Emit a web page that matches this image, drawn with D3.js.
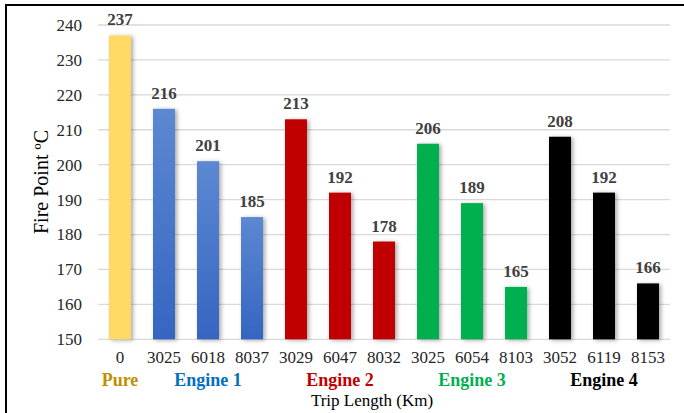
<!DOCTYPE html>
<html>
<head>
<meta charset="utf-8">
<script src="https://cdn.jsdelivr.net/npm/d3@7"></script>
<style>
  html, body { margin: 0; padding: 0; background: #fff; }
  svg { display: block; }
</style>
</head>
<body>
<svg id="chart" width="684" height="413"></svg>
<script>
// Trip lengths (km) for each sample, grouped by engine
const tripLengths = ["0", "3025", "6018", "8037", "3029", "6047", "8032", "3025", "6054", "8103", "3052", "6119", "8153"];
const groupOf     = ["Pure", "Engine 1", "Engine 1", "Engine 1", "Engine 2", "Engine 2", "Engine 2", "Engine 3", "Engine 3", "Engine 3", "Engine 4", "Engine 4", "Engine 4"];
const firePoint   = [237, 216, 201, 185, 213, 192, 178, 206, 189, 165, 208, 192, 166];
const groups      = ["Pure", "Engine 1", "Engine 2", "Engine 3", "Engine 4"];
const yTicks      = [150, 160, 170, 180, 190, 200, 210, 220, 230, 240];

const barFill   = { "Pure": "#FFD966", "Engine 1": "url(#blueGrad)", "Engine 2": "#C00000", "Engine 3": "#00B050", "Engine 4": "#000000" };
const labelFill = { "Pure": "#BF9000", "Engine 1": "#0070C0", "Engine 2": "#C00000", "Engine 3": "#00B050", "Engine 4": "#000000" };

const SERIF = "'Liberation Serif', 'Times New Roman', serif";

const svg = d3.select("#chart");
const margin = { left: 98, right: 14, top: 25, bottom: 74 };

const defs = svg.append("defs");
const grad = defs.append("linearGradient").attr("id", "blueGrad")
  .attr("x1", 0).attr("y1", 0).attr("x2", 0).attr("y2", 1);
grad.append("stop").attr("offset", "0%").attr("stop-color", "#5C88D2");
grad.append("stop").attr("offset", "100%").attr("stop-color", "#3565C1");

const shadow = defs.append("filter").attr("id", "shadow")
  .attr("x", "-30%").attr("y", "-10%").attr("width", "160%").attr("height", "120%");
shadow.append("feDropShadow").attr("dx", 2).attr("dy", 1)
  .attr("stdDeviation", 2).attr("flood-color", "#000").attr("flood-opacity", 0.35);

// Outer frame (right and bottom edges run past the page)
svg.append("rect").attr("x", 6).attr("y", 5).attr("width", 700).attr("height", 430)
  .attr("fill", "none").attr("stroke", "#000").attr("stroke-width", 2);

const x = d3.scaleBand()
  .domain(d3.range(tripLengths.length))
  .range([margin.left, 670])
  .paddingInner(0.5).paddingOuter(0.25);

const y = d3.scaleLinear().domain([150, 240]).range([339.3, 25]);

// Gridlines
svg.append("g")
  .selectAll("line").data(yTicks).join("line")
  .attr("x1", margin.left).attr("x2", 670)
  .attr("y1", d => y(d)).attr("y2", d => y(d))
  .attr("stroke", "#d9d9d9").attr("stroke-width", 1.3);

// Y axis labels
const yAxis = svg.append("g").attr("transform", "translate(82,0)")
  .call(d3.axisLeft(y).tickValues(yTicks).tickSize(0).tickPadding(0));
yAxis.select(".domain").remove();
yAxis.selectAll("text")
  .style("font-family", SERIF)
  .style("font-size", "17px").attr("fill", "#262626");

// Bars
svg.append("g").attr("filter", "url(#shadow)")
  .selectAll("rect").data(firePoint).join("rect")
  .attr("x", (d, i) => x(i))
  .attr("width", x.bandwidth())
  .attr("y", d => y(d))
  .attr("height", d => y(150) - y(d))
  .attr("fill", (d, i) => barFill[groupOf[i]]);

// Value labels
svg.append("g")
  .selectAll("text").data(firePoint).join("text")
  .attr("x", (d, i) => x(i) + x.bandwidth() / 2)
  .attr("y", d => y(d) - 10)
  .attr("text-anchor", "middle")
  .style("font-family", SERIF)
  .style("font-size", "17px").style("font-weight", "bold").attr("fill", "#404040")
  .text(d => d);

// X axis tick labels
const xAxis = svg.append("g").attr("transform", `translate(0,${y(150)})`)
  .call(d3.axisBottom(x).tickFormat(i => tripLengths[i]).tickSize(0).tickPadding(12));
xAxis.select(".domain").remove();
xAxis.selectAll("text")
  .style("font-family", SERIF)
  .style("font-size", "17px").attr("fill", "#262626");

// Group labels
svg.append("g")
  .selectAll("text").data(groups).join("text")
  .attr("x", g => {
    const idx = d3.range(groupOf.length).filter(i => groupOf[i] === g);
    return d3.mean(idx, i => x(i) + x.bandwidth() / 2);
  })
  .attr("y", 386)
  .attr("text-anchor", "middle")
  .style("font-family", SERIF)
  .style("font-size", "18px").style("font-weight", "bold")
  .attr("fill", g => labelFill[g])
  .text(g => g);

// Axis titles
svg.append("text")
  .attr("x", 372).attr("y", 406)
  .attr("text-anchor", "middle")
  .style("font-family", SERIF).style("font-size", "17px").attr("fill", "#000")
  .text("Trip Length (Km)");

svg.append("text")
  .attr("transform", "translate(48,182) rotate(-90)")
  .attr("text-anchor", "middle")
  .style("font-family", SERIF).style("font-size", "20px").attr("fill", "#000")
  .text("Fire Point ºC");
</script>
</body>
</html>
